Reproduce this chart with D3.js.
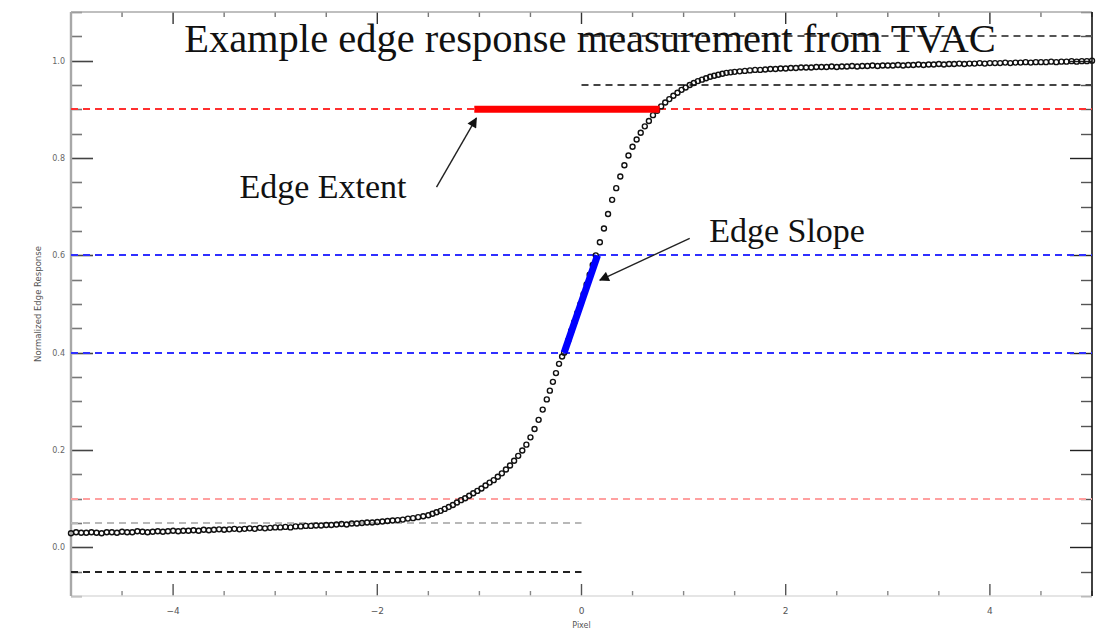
<!DOCTYPE html>
<html>
<head>
<meta charset="utf-8">
<script src="https://cdn.jsdelivr.net/npm/d3@7"></script>
<style>
  html, body { margin: 0; padding: 0; background: #fff; }
  svg { display: block; }
</style>
</head>
<body>
<svg id="chart" width="1110" height="630"></svg>
<script>
// Edge spread samples: pixel offset from the edge and normalized response
const edgeX = [
  -5.00,-4.95,-4.90,-4.85,-4.80,-4.75,-4.70,-4.65,-4.60,-4.55,-4.50,-4.45,-4.40,-4.35,-4.30,-4.25,-4.20,-4.15,-4.10,-4.05,
  -4.00,-3.95,-3.90,-3.85,-3.80,-3.75,-3.70,-3.65,-3.60,-3.55,-3.50,-3.45,-3.40,-3.35,-3.30,-3.25,-3.20,-3.15,-3.10,-3.05,
  -3.00,-2.95,-2.90,-2.85,-2.80,-2.75,-2.70,-2.65,-2.60,-2.55,-2.50,-2.45,-2.40,-2.35,-2.30,-2.25,-2.20,-2.15,-2.10,-2.05,
  -2.00,-1.95,-1.90,-1.85,-1.80,-1.75,-1.70,-1.65,-1.60,-1.55,
  -1.50,-1.46,-1.42,-1.38,-1.34,-1.30,-1.26,-1.22,-1.18,-1.14,-1.10,-1.06,-1.02,-0.98,-0.94,-0.90,-0.86,-0.82,-0.78,-0.74,
  -0.70,-0.66,-0.62,-0.58,-0.54,-0.50,-0.46,-0.42,-0.38,-0.34,-0.31,-0.28,-0.25,-0.22,-0.19,-0.17,-0.13,-0.10,-0.07,-0.04,
  -0.01,0.02,0.05,0.08,0.11,0.14,0.18,0.22,0.26,0.30,0.34,0.38,0.42,0.46,0.50,0.54,0.58,0.62,0.66,0.70,
  0.74,0.78,0.82,0.86,0.90,0.94,0.98,1.02,1.06,1.10,1.14,1.18,1.22,1.26,1.30,1.34,1.38,1.42,1.46,
  1.50,1.55,1.60,1.65,1.70,1.75,1.80,1.85,1.90,1.95,2.00,2.05,2.10,2.15,2.20,2.25,2.30,2.35,2.40,2.45,
  2.50,2.55,2.60,2.65,2.70,2.75,2.80,2.85,2.90,2.95,3.00,3.05,3.10,3.15,3.20,3.25,3.30,3.35,3.40,3.45,
  3.50,3.55,3.60,3.65,3.70,3.75,3.80,3.85,3.90,3.95,4.00,4.05,4.10,4.15,4.20,4.25,4.30,4.35,4.40,4.45,
  4.50,4.55,4.60,4.65,4.70,4.75,4.80,4.85,4.90,4.95,5.00
];
const edgeResponse = [
  0.029,0.031,0.030,0.030,0.031,0.030,0.029,0.031,0.031,0.030,0.032,0.031,0.031,0.033,0.032,0.031,0.032,0.033,0.032,0.033,
  0.034,0.033,0.034,0.034,0.035,0.034,0.036,0.035,0.036,0.037,0.036,0.037,0.038,0.037,0.038,0.039,0.038,0.040,0.039,0.040,
  0.041,0.041,0.042,0.041,0.043,0.043,0.044,0.044,0.045,0.045,0.046,0.046,0.047,0.048,0.047,0.049,0.049,0.050,0.051,0.051,
  0.052,0.053,0.054,0.055,0.056,0.057,0.059,0.060,0.062,0.064,
  0.066,0.069,0.072,0.075,0.079,0.083,0.087,0.092,0.097,0.101,0.106,0.111,0.116,0.121,0.127,0.133,0.138,0.145,0.152,0.160,
  0.168,0.178,0.188,0.199,0.211,0.226,0.243,0.262,0.283,0.304,0.322,0.340,0.358,0.377,0.392,0.400,0.425,0.445,0.463,0.482,
  0.500,0.520,0.540,0.560,0.580,0.600,0.627,0.655,0.685,0.714,0.738,0.762,0.785,0.805,0.823,0.838,0.852,0.865,0.876,0.888,
  0.897,0.906,0.914,0.921,0.928,0.934,0.940,0.945,0.950,0.954,0.958,0.961,0.964,0.967,0.969,0.971,0.973,0.975,0.976,
  0.977,0.978,0.979,0.980,0.981,0.981,0.982,0.983,0.983,0.984,0.984,0.985,0.985,0.986,0.986,0.986,0.987,0.987,0.987,0.988,
  0.987,0.988,0.988,0.989,0.988,0.989,0.989,0.990,0.989,0.990,0.990,0.990,0.991,0.990,0.991,0.991,0.992,0.991,0.992,0.992,
  0.993,0.992,0.993,0.993,0.994,0.993,0.994,0.994,0.995,0.994,0.995,0.995,0.995,0.996,0.995,0.996,0.996,0.997,0.996,0.997,
  0.997,0.997,0.998,0.997,0.998,0.998,0.999,0.998,0.999,0.999,1.000
];

// Dashed reference levels: response value, pixel span, colour
const refLevels = [1.05, 0.95, 0.9, 0.6, 0.4, 0.1, 0.05, -0.05];
const refSpans  = [[0, 5], [0, 5], [-5, 5], [-5, 5], [-5, 5], [-5, 5], [-5, 0], [-5, 0]];
const refColors = ["#555", "#444", "#ff3030", "#3030ff", "#3030ff", "#ffa0a0", "#b8b8b8", "#222"];

// Edge extent (shown at the 0.9 level) and edge slope (0.4 -> 0.6)
const extentSpan = [-1.05, 0.765];
const extentLevel = 0.9;
const slopeStart = [-0.17, 0.4];
const slopeEnd = [0.157, 0.6];

// Annotation labels and arrow ends in data units
const labels = ["Edge Extent", "Edge Slope"];
const labelPos = [[-3.35, 0.718], [1.25, 0.628]];
const arrowFrom = [[-1.42, 0.74], [1.06, 0.635]];
const arrowTo = [[-1.03, 0.882], [0.18, 0.549]];

const xTickValues = [-4, -2, 0, 2, 4];
const yTickValues = [0.0, 0.2, 0.4, 0.6, 0.8, 1.0];
const titleText = "Example edge response measurement from TVAC";
const xLabel = "Pixel";
const yLabel = "Normalized Edge Response";

const svg = d3.select("#chart");
const x = d3.scaleLinear().domain([-5, 5]).range([71, 1092]);
const y = d3.scaleLinear().domain([-0.1, 1.1]).range([596, 12]);
// horizontal lines snapped to the pixel grid so thin strokes stay crisp
const ySnap = v => Math.round(y(v)) + 0.5;
const ySnap2 = v => Math.round(y(v));

const defs = svg.append("defs");
defs.append("marker")
  .attr("id", "arrowhead")
  .attr("viewBox", "0 0 10 10")
  .attr("refX", 9).attr("refY", 5)
  .attr("markerWidth", 12).attr("markerHeight", 10)
  .attr("markerUnits", "userSpaceOnUse")
  .attr("orient", "auto")
  .append("path").attr("d", "M0,0 L10,5 L0,10 Z").attr("fill", "#111");

// Minor ticks (y every 0.05, x every 0.5)
const yMinor = d3.range(-0.1, 1.1001, 0.05).map(v => +v.toFixed(2));
const xMinor = d3.range(-5, 5.001, 0.5).map(v => +v.toFixed(1));

const ticks = svg.append("g");
yMinor.forEach(v => {
  const major = yTickValues.some(t => Math.abs(t - v) < 1e-6);
  const len = major ? 22 : 11;
  ticks.append("line").attr("x1", x(-5)).attr("x2", x(-5) + len)
    .attr("y1", ySnap(v)).attr("y2", ySnap(v))
    .attr("stroke", major ? "#444" : "#777").attr("stroke-width", 1.6);
  ticks.append("line").attr("x1", x(5)).attr("x2", x(5) - len)
    .attr("y1", ySnap(v)).attr("y2", ySnap(v))
    .attr("stroke", major ? "#222" : "#555").attr("stroke-width", 1.4);
});
xMinor.forEach(v => {
  const major = xTickValues.some(t => Math.abs(t - v) < 1e-6);
  const len = major ? 12 : 5;
  ticks.append("line").attr("x1", x(v)).attr("x2", x(v))
    .attr("y1", y(-0.1)).attr("y2", y(-0.1) - len)
    .attr("stroke", major ? "#555" : "#888").attr("stroke-width", 1.4);
  ticks.append("line").attr("x1", x(v)).attr("x2", x(v))
    .attr("y1", y(1.1)).attr("y2", y(1.1) + len)
    .attr("stroke", major ? "#333" : "#777").attr("stroke-width", 1.4);
});

// Frame
svg.append("line").attr("x1", x(-5)).attr("x2", x(5)).attr("y1", y(1.1)).attr("y2", y(1.1))
  .attr("stroke", "#aaa").attr("stroke-width", 1.5);
svg.append("line").attr("x1", x(-5)).attr("x2", x(5)).attr("y1", y(-0.1)).attr("y2", y(-0.1))
  .attr("stroke", "#ddd").attr("stroke-width", 1.5);
svg.append("line").attr("x1", x(-5)).attr("x2", x(-5)).attr("y1", y(1.1)).attr("y2", y(-0.1))
  .attr("stroke", "#a8a8a8").attr("stroke-width", 2.4);
svg.append("line").attr("x1", x(5)).attr("x2", x(5)).attr("y1", y(1.1)).attr("y2", y(-0.1))
  .attr("stroke", "#111").attr("stroke-width", 1.6);

// Tick labels
svg.append("g").selectAll("text").data(yTickValues).join("text")
  .attr("x", x(-5) - 6).attr("y", d => y(d) + 3)
  .attr("text-anchor", "end")
  .attr("font-family", "DejaVu Sans, sans-serif").attr("font-size", 8)
  .attr("fill", "#666")
  .text(d => d3.format(".1f")(d));
svg.append("g").selectAll("text").data(xTickValues).join("text")
  .attr("x", d => x(d)).attr("y", 614)
  .attr("text-anchor", "middle")
  .attr("font-family", "DejaVu Sans, sans-serif").attr("font-size", 9)
  .attr("fill", "#555")
  .text(d => d3.format("")(d));
svg.append("text").attr("x", x(0)).attr("y", 628).attr("text-anchor", "middle")
  .attr("font-family", "DejaVu Sans, sans-serif").attr("font-size", 8).attr("fill", "#555")
  .text(xLabel);
svg.append("text")
  .attr("transform", `translate(41, ${y(0.5)}) rotate(-90)`)
  .attr("text-anchor", "middle")
  .attr("font-family", "DejaVu Sans, sans-serif").attr("font-size", 8.5).attr("fill", "#555")
  .text(yLabel);

// Dashed reference lines
svg.append("g").selectAll("line").data(refLevels).join("line")
  .attr("x1", (d, i) => x(refSpans[i][0])).attr("x2", (d, i) => x(refSpans[i][1]))
  .attr("y1", d => ySnap2(d)).attr("y2", d => ySnap2(d))
  .attr("stroke", (d, i) => refColors[i])
  .attr("stroke-width", 2)
  .attr("stroke-dasharray", "7,5");

// Edge samples
svg.append("g").selectAll("circle").data(edgeX).join("circle")
  .attr("cx", d => x(d)).attr("cy", (d, i) => y(edgeResponse[i]))
  .attr("r", 2.5)
  .attr("fill", "none")
  .attr("stroke", "#111")
  .attr("stroke-width", 1.4);

// Edge extent bar
svg.append("line")
  .attr("x1", x(extentSpan[0])).attr("x2", x(extentSpan[1]))
  .attr("y1", y(extentLevel)).attr("y2", y(extentLevel))
  .attr("stroke", "#ff0000").attr("stroke-width", 7);

// Edge slope bar
svg.append("line")
  .attr("x1", x(slopeStart[0])).attr("y1", y(slopeStart[1]))
  .attr("x2", x(slopeEnd[0])).attr("y2", y(slopeEnd[1]))
  .attr("stroke", "#0000ff").attr("stroke-width", 7);

// Annotation arrows
svg.append("g").selectAll("line").data(arrowFrom).join("line")
  .attr("x1", d => x(d[0])).attr("y1", d => y(d[1]))
  .attr("x2", (d, i) => x(arrowTo[i][0])).attr("y2", (d, i) => y(arrowTo[i][1]))
  .attr("stroke", "#222").attr("stroke-width", 1.4)
  .attr("marker-end", "url(#arrowhead)");

// Annotation labels
svg.append("g").selectAll("text").data(labels).join("text")
  .attr("x", (d, i) => x(labelPos[i][0])).attr("y", (d, i) => y(labelPos[i][1]))
  .attr("font-family", "Liberation Serif, Times New Roman, serif")
  .attr("font-size", 34).attr("fill", "#111")
  .text(d => d);

// Title
svg.append("text").attr("x", 590).attr("y", 52).attr("text-anchor", "middle")
  .attr("font-family", "Liberation Serif, Times New Roman, serif")
  .attr("font-size", 40.5).attr("fill", "#111")
  .text(titleText);
</script>
</body>
</html>
